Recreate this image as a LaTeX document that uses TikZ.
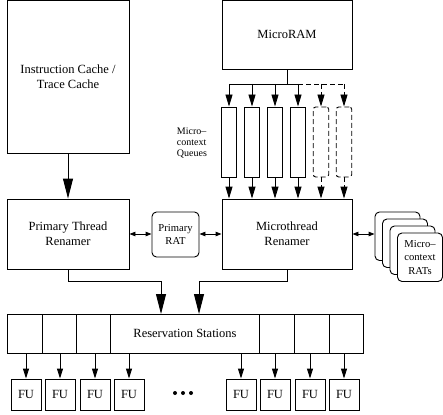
\documentclass[tikz,border=0pt]{standalone}
\usepackage{fontspec}
\setmainfont{Liberation Serif}
\usetikzlibrary{arrows.meta}
\newcommand\mainfnt{\fontsize{12.5}{15}\selectfont}
\newcommand\ratfnt{\fontsize{10.6}{13.5}\selectfont}
\newcommand\qfnt{\fontsize{10}{11}\selectfont}
\begin{document}
\begin{tikzpicture}[x=1pt,y=-1pt,line width=0.9pt,
  box/.style={draw,rectangle,inner sep=0pt,align=center,font=\mainfnt},
  rbox/.style={draw,rectangle,rounded corners=4.5pt,inner sep=0pt,align=center,fill=white,font=\ratfnt},
  queue/.style={draw,rectangle,inner sep=0pt,minimum width=15.5pt,minimum height=70pt},
  dqueue/.style={queue,dash pattern=on 5pt off 3pt,rounded corners=2.5pt},
  bigarrow/.style={-{Triangle[length=20pt,width=10pt]}},
  qarrow/.style={-{Triangle[length=12pt,width=7pt]}},
  fuarrow/.style={-{Triangle[length=10pt,width=6pt]}},
  dblarrow/.style={{Triangle[length=6pt,width=4.5pt]}-{Triangle[length=6pt,width=4.5pt]}},
  fubox/.style={draw,rectangle,inner sep=0pt,minimum width=30pt,minimum height=31pt,font=\mainfnt}
]
\useasboundingbox (0,0) rectangle (443,414);

% top boxes
\node[box,minimum width=122pt,minimum height=152.5pt] (ic) at (68,76.75) {Instruction Cache /\\Trace Cache};
\node[box,minimum width=130pt,minimum height=68.5pt] (uram) at (287,34.75) {MicroRAM};

% renamers
\node[box,minimum width=122pt,minimum height=70pt] (ptr) at (68,234) {Primary Thread\\Renamer};
\node[box,minimum width=130pt,minimum height=70pt] (mtr) at (287,234) {Microthread\\Renamer};
\node[rbox,minimum width=47pt,minimum height=45pt] (prat) at (175.5,234.5) {Primary\\RAT};

% micro-context RATs stack
\node[rbox,minimum width=45pt,minimum height=48.5pt] (r1) at (397.5,236.25) {};
\node[rbox,minimum width=45pt,minimum height=48.5pt] (r2) at (405,243.25) {};
\node[rbox,minimum width=45pt,minimum height=48.5pt] (r3) at (412.5,250.25) {};
\node[rbox,minimum width=45pt,minimum height=48.5pt] (r4) at (420,257.25) {Micro\textendash\\context\\RATs};

% queues
\foreach \i in {0,1,2,3} {
  \node[queue] (q\i) at (229+23*\i,142) {};
}
\foreach \i in {4,5} {
  \node[dqueue] (q\i) at (229+23*\i,142) {};
}
\node[anchor=west,align=left,font=\qfnt,inner sep=0pt] (qlabel) at (176.5,142.5) {Micro\textendash\\context\\Queues};

% distribution from MicroRAM
\coordinate (dl) at (229,84);
\coordinate (dm) at (298,84);
\coordinate (dr) at (344,84);
\draw (uram.south) -- (uram.south |- dl);
\draw (dl) -- (dm);
\draw[dash pattern=on 5pt off 3pt] (dm) -- (dr);
\foreach \i in {0,1,2,3} {
  \draw[qarrow] (q\i.north |- dl) -- (q\i.north);
  \draw[qarrow] (q\i.south) -- (q\i.south |- mtr.north);
}
\foreach \i in {4,5} {
  \draw[qarrow,dash pattern=on 5pt off 3pt] (q\i.north |- dl) -- (q\i.north);
  \draw[qarrow,dash pattern=on 5pt off 3pt] (q\i.south) -- (q\i.south |- mtr.north);
}

% IC to primary renamer
\draw[bigarrow] (ic.south) -- (ptr.north);

% RAT connections
\draw[dblarrow] (ptr.east) -- (prat.west |- ptr.east);
\draw[dblarrow] (prat.east |- mtr.west) -- (mtr.west);
\draw[dblarrow] (mtr.east) -- (mtr.east -| r1.west);

% reservation stations
\node[draw,rectangle,inner sep=0pt,minimum width=356pt,minimum height=39pt,font=\mainfnt] (rs) at (185,333.5) {};
\node[font=\mainfnt,inner sep=0pt] (rstext) at (185,333.5) {Reservation Stations};
\foreach \x in {42,76,110,259,294,329} {
  \draw (\x,314) -- (\x,353);
}
\coordinate (rsin1) at (161,314);
\coordinate (rsin2) at (199,314);
\draw[bigarrow] (ptr.south) -- ++(0,12) -| (rsin1);
\draw[bigarrow] (mtr.south) -- ++(0,12) -| (rsin2);

% functional units
\foreach \n/\x in {1/26,2/60,3/95,4/129,5/241,6/275,7/310,8/344} {
  \node[fubox] (fu\n) at (\x,394.5) {FU};
  \draw[fuarrow] (fu\n.north |- rs.south) -- (fu\n.north);
}
\foreach \x in {175,183,191} {
  \fill (\x,393) circle (2pt);
}
\end{tikzpicture}
\end{document}
